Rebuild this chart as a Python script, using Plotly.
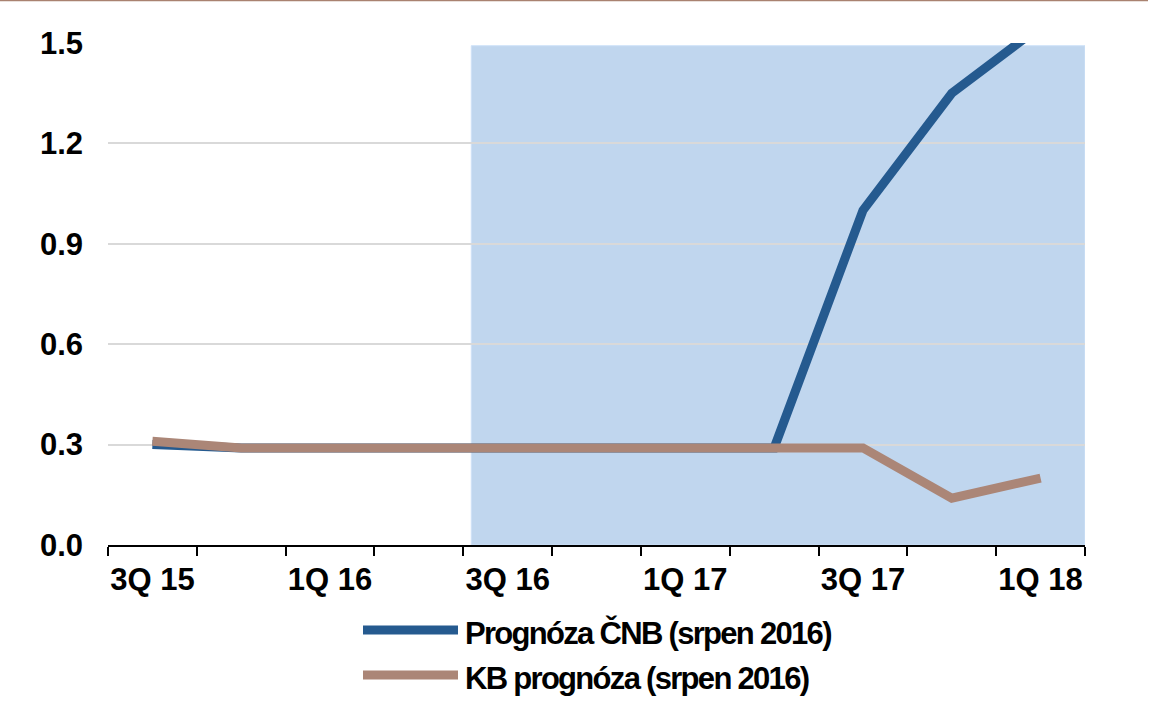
import plotly.graph_objects as go

# ---- data ----
quarters = ["3Q 15", "4Q 15", "1Q 16", "2Q 16", "3Q 16", "4Q 16",
            "1Q 17", "2Q 17", "3Q 17", "4Q 17", "1Q 18"]
tick_labels = ["3Q 15", "", "1Q 16", "", "3Q 16", "", "1Q 17", "", "3Q 17", "", "1Q 18"]
cnb_name = "Prognóza ČNB (srpen 2016)"
kb_name = "KB prognóza (srpen 2016)"
cnb_values = [0.30, 0.29, 0.29, 0.29, 0.29, 0.29, 0.29, 0.29, 1.00, 1.35, 1.55]
kb_values = [0.31, 0.29, 0.29, 0.29, 0.29, 0.29, 0.29, 0.29, 0.29, 0.14, 0.20]
y_ticks = [0.0, 0.3, 0.6, 0.9, 1.2, 1.5]
y_tick_text = ["0.0", "0.3", "0.6", "0.9", "1.2", "1.5"]

# ---- layout geometry (pixels) ----
W, H = 1157, 710
L, R, T, B = 108, 1085, 43, 545
PW, PH = R - L, B - T


def px(x):
    return (x - L) / PW


def py(y):
    return (B - y) / PH


BLUE = "#255A8F"
BROWN = "#AB8677"
FONT = "Liberation Sans, Arial, sans-serif"
FS = 31

fig = go.Figure()
fig.add_trace(go.Scatter(x=quarters, y=cnb_values, mode="lines", name=cnb_name,
                         line=dict(color=BLUE, width=9), showlegend=False))
fig.add_trace(go.Scatter(x=quarters, y=kb_values, mode="lines", name=kb_name,
                         line=dict(color=BROWN, width=9), showlegend=False))

shapes = [
    # shaded forecast region
    dict(type="rect", xref="x", yref="y", x0=3.59, x1=10.5, y0=0, y1=1.492,
         fillcolor="#C0D6EE", line=dict(color="#CFE2F8", width=1), layer="below"),
    # top border line
    dict(type="line", xref="paper", yref="paper", x0=px(0), x1=px(1148),
         y0=py(0.5), y1=py(0.5), line=dict(color="#A98270", width=1.5)),
    # manual legend lines
    dict(type="line", xref="paper", yref="paper", x0=px(363), x1=px(458),
         y0=py(630), y1=py(630), line=dict(color=BLUE, width=9)),
    dict(type="line", xref="paper", yref="paper", x0=px(363), x1=px(458),
         y0=py(675), y1=py(675), line=dict(color=BROWN, width=9)),
]


def legend_text(s):
    return "<b><span style='letter-spacing:-1.7px'>" + s + "</span></b>"


annotations = [
    dict(text=legend_text(cnb_name), xref="paper", yref="paper", x=px(463), y=py(633),
         xanchor="left", yanchor="middle", showarrow=False,
         font=dict(size=FS, color="black", family=FONT)),
    dict(text=legend_text(kb_name), xref="paper", yref="paper", x=px(463), y=py(678),
         xanchor="left", yanchor="middle", showarrow=False,
         font=dict(size=FS, color="black", family=FONT)),
]

fig.update_layout(
    width=W, height=H,
    margin=dict(l=L, r=W - R, t=T, b=H - B),
    paper_bgcolor="white", plot_bgcolor="white",
    font=dict(family=FONT, size=FS, color="black"),
    shapes=shapes, annotations=annotations,
    showlegend=False,
    xaxis=dict(type="category", categoryorder="array", categoryarray=quarters,
               tickvals=quarters, ticktext=["<b>" + t + "</b>" if t else "" for t in tick_labels],
               tickson="boundaries", ticks="outside", ticklen=9, tickwidth=2,
               tickcolor="black", showline=True, linecolor="black", linewidth=2,
               showgrid=False, range=[-0.5, 10.5], tickangle=0,
               ticklabelstandoff=6, fixedrange=True),
    yaxis=dict(range=[0, 1.5], tickvals=y_ticks,
               ticktext=["<b>" + t + "</b>" for t in y_tick_text],
               showgrid=True, gridcolor="#D9D9D9", gridwidth=2,
               zeroline=False, showline=False, ticks="",
               ticklabelstandoff=24, fixedrange=True),
)

fig.write_html("out.html")
